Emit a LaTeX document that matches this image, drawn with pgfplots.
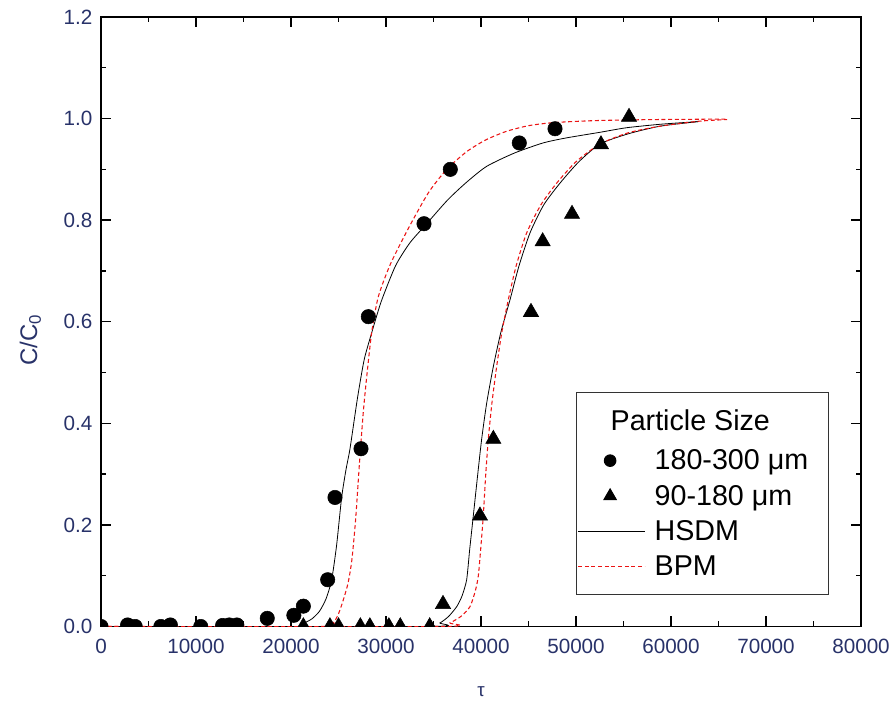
\documentclass[border=0pt]{standalone}
\usepackage{pgfplots}
\pgfplotsset{compat=1.18}
\usepackage{fontspec}
\setmainfont{Liberation Sans}
\definecolor{ticknavy}{RGB}{40,50,105}
\definecolor{bpmred}{RGB}{235,20,20}
\pgfplotsset{
  longline legend/.style={legend image code/.code={\draw[##1] (0pt,0pt) -- (50pt,0pt);}},
  longmark legend/.style={legend image code/.code={\draw[mark repeat=2,mark phase=2,##1,mark options={scale=0.8}] plot coordinates {(0pt,0pt) (24pt,0pt) (48pt,0pt)};}},
}
\begin{document}
\begin{tikzpicture}
\begin{axis}[
  scale only axis,
  width=570pt, height=457.1pt,
  xmin=0, xmax=80000, ymin=0, ymax=1.2,
  xtick={0,10000,...,80000},
  ytick={0,0.2,...,1.2},
  minor x tick num=1, minor y tick num=1,
  tick align=inside,
  major tick length=7.5pt, minor tick length=3.8pt,
  every tick/.style={black, line width=1pt},
  axis line style={black, line width=1.3pt},
  /pgf/number format/assume math mode=true,
  scaled x ticks=false,
  xticklabel={\pgfmathprintnumber[set thousands separator={},fixed]{\tick}},
  yticklabel={\pgfmathprintnumber[fixed,fixed zerofill,precision=1]{\tick}},
  tick label style={font=\fontsize{15.5}{18}\selectfont, text=ticknavy},
  xticklabel style={yshift=-6pt},
  yticklabel style={xshift=-3pt},
  xlabel={τ},
  xlabel style={at={(axis description cs:0.5,0)}, anchor=center, yshift=-49pt, font=\fontsize{14}{16}\selectfont, text=ticknavy},
  ylabel={C/C\textsubscript{0}},
  ylabel style={at={(axis description cs:-0.093,0.47)}, anchor=center, font=\fontsize{18}{20}\selectfont, text=ticknavy},
  clip marker paths=true,
  legend cell align=left,
  legend style={at={(axis cs:49970,0.461)}, anchor=north west, draw=black!80, line width=0.8pt,
    font=\fontsize{21.5}{25}\selectfont, inner xsep=1pt, inner ysep=11pt, row sep=6pt, column sep=5pt,
    nodes={inner sep=2pt}},
]
\addlegendimage{empty legend}
\addlegendentry{\hspace{-33pt}\raisebox{2.5pt}{Particle Size}}

% HSDM, 180-300 um
\addplot[black, line width=0.6pt, smooth, tension=0.4, forget plot] coordinates {
(0,0) (20500,0) (21300,0.006) (22200,0.015) (23000,0.03) (23700,0.055) (24280,0.092) (24800,0.16) (25330,0.254) (25800,0.31) (26210,0.35) (27000,0.45) (27700,0.525) (28490,0.578) (29500,0.64) (31000,0.71) (32500,0.755) (34280,0.793) (36500,0.84) (38500,0.875) (40600,0.906) (43500,0.932) (46530,0.952) (49000,0.962) (52530,0.973) (55330,0.982) (59000,0.989) (62840,0.994)
};
% HSDM, 90-180 um
\addplot[black, line width=0.6pt, smooth, tension=0.4, forget plot] coordinates {
(0,0) (34500,0) (35680,0.007) (36600,0.02) (37440,0.039) (38000,0.06) (38490,0.092) (38800,0.15) (39190,0.218) (39600,0.29) (40070,0.369) (40600,0.44) (41300,0.512) (42100,0.58) (43050,0.643) (44000,0.71) (45160,0.775) (46600,0.83) (48320,0.873) (50300,0.915) (52530,0.95) (55500,0.97) (58840,0.985) (62840,0.994)
};
% BPM, 180-300 um
\addplot[bpmred, line width=0.8pt, dash pattern=on 3pt off 2pt, smooth, tension=0.4, forget plot] coordinates {
(0,0) (23500,0) (24450,0.007) (25000,0.025) (25500,0.052) (26000,0.085) (26400,0.13) (26800,0.21) (27200,0.32) (27600,0.42) (27960,0.49) (28500,0.58) (29200,0.65) (30500,0.715) (32530,0.79) (34500,0.855) (36390,0.90) (38500,0.935) (40500,0.958) (42700,0.975) (45000,0.986) (47600,0.992) (52000,0.996) (58000,0.998) (65900,0.999)
};
% BPM, 90-180 um
\addplot[bpmred, line width=0.8pt, dash pattern=on 3pt off 2pt, smooth, tension=0.4, forget plot] coordinates {
(0,0) (35800,0) (36740,0.007) (37900,0.02) (38840,0.039) (39400,0.07) (39720,0.10) (40000,0.16) (40240,0.218) (40500,0.30) (40770,0.369) (41150,0.44) (41650,0.512) (42200,0.58) (42870,0.643) (43700,0.71) (44810,0.775) (46300,0.83) (47970,0.873) (50000,0.915) (52530,0.95) (55500,0.972) (58840,0.985) (63050,0.995) (65900,0.998)
};

% data 180-300 um
\addplot[only marks, mark=*, mark size=5.4pt, black, longmark legend] coordinates {
(0,0) (2800,0.003) (3600,0) (6300,0) (7300,0.003) (10500,0) (12800,0.002) (13500,0.003) (14300,0.003) (17500,0.016) (20300,0.022) (21300,0.04) (23860,0.092) (24630,0.254) (27370,0.35) (28140,0.61) (34000,0.793) (36770,0.90) (44030,0.952) (47790,0.98)
};
\addlegendentry{180-300 μm\hspace*{12pt}}
% data 90-180 um
\addplot[only marks, mark=triangle*, mark size=6.6pt, black, longmark legend] coordinates {
(21300,0) (24100,0) (25000,0) (27300,0) (28300,0) (30300,0) (31500,0) (34600,0) (36000,0.044) (39890,0.218) (41300,0.369) (45260,0.619) (46490,0.758) (49580,0.812) (52630,0.949) (55580,1.003)
};
\addlegendentry{90-180 μm}

\addlegendimage{black, line width=0.6pt, longline legend}
\addlegendentry{HSDM}
\addlegendimage{bpmred, line width=0.8pt, dash pattern=on 3pt off 2pt, longline legend}
\addlegendentry{BPM}

\coordinate (ll) at (rel axis cs:0,0);
\coordinate (ur) at (rel axis cs:1,1);
\end{axis}
\pgfresetboundingbox
\path[use as bounding box] ([shift={(-75.75pt,-61.125pt)}]ll) rectangle ([shift={(26.25pt,12.75pt)}]ur);
\end{tikzpicture}
\end{document}
